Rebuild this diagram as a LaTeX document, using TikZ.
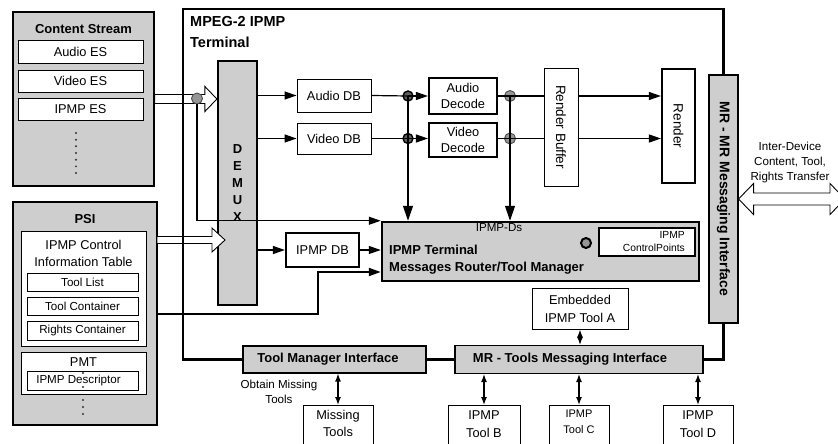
\documentclass[tikz,border=0pt]{standalone}
\usepackage{fontspec}
\setmainfont{Liberation Sans}
\usepackage{graphicx}
\usetikzlibrary{calc,arrows.meta}

\definecolor{boxgray}{RGB}{206,206,206}
\definecolor{dotgray}{RGB}{150,150,150}
\definecolor{darkdot}{RGB}{95,95,95}

\newcommand{\fnorm}{\fontsize{12.8}{17}\selectfont}
\newcommand{\fsmall}{\fontsize{11.6}{15}\selectfont}
\newcommand{\ftiny}{\fontsize{10.3}{13}\selectfont}
\newcommand{\fbold}{\fontsize{13}{17}\selectfont\bfseries}

% hollow block arrow: start, end, shaft half width, head half width, head length
\newcommand{\hollowarrow}[5]{%
  \draw[hollow] let \p1=(#1), \p2=(#2) in
    (\x1,\y1+#3) -- (\x2-#5,\y1+#3) -- (\x2-#5,\y1+#4) -- (\x2,\y1)
    -- (\x2-#5,\y1-#4) -- (\x2-#5,\y1-#3) -- (\x1,\y1-#3) -- cycle;}

\begin{document}
\begin{tikzpicture}[x=1pt,y=-1pt,
  box/.style={draw, fill=white, line width=0.9pt, inner sep=0pt, align=center, font=\fnorm},
  thickbox/.style={box, line width=2.2pt},
  graybox/.style={draw, fill=boxgray, line width=1.1pt, inner sep=0pt, align=center, font=\fbold},
  hollow/.style={draw, fill=white, line width=0.9pt},
  frame/.style={line width=2.2pt},
  wire/.style={line width=1.2pt},
  link/.style={line width=1.2pt, -{Triangle[length=12pt,width=8pt]}},
  vlink/.style={line width=1.3pt, -{Triangle[length=15pt,width=10pt]}},
  twoway/.style={line width=1.3pt, {Latex[length=8pt,width=6pt]}-{Latex[length=8pt,width=6pt]}},
  jgray/.style={circle, draw=black!70, fill=dotgray, line width=0.9pt, minimum size=11pt, inner sep=0pt},
  jdark/.style={circle, draw=black, fill=darkdot, line width=1.4pt, minimum size=10pt, inner sep=0pt},
  vdots/.style={circle, fill=black!80, minimum size=2.2pt, inner sep=0pt}]
\useasboundingbox (0,0) rectangle (838,444);
\clip (0,0) rectangle (838,444);

% Content stream and PSI on the left.
\node[box, fill=boxgray, line width=1.3pt, minimum width=141, minimum height=174] (cs) at (83.5,99) {};
\node[font=\fbold] (cstitle) at (83.5,29) {Content Stream};
\node[box, minimum width=125, minimum height=23] (aes) at (80.5,51.5) {Audio ES};
\node[box, minimum width=125, minimum height=22] (ves) at (80.5,81) {Video ES};
\node[box, minimum width=125, minimum height=22] (ies) at (80.5,109) {IPMP ES};
\foreach \i in {0,...,6} \node[vdots] (csdot\i) at (76,133+6.67*\i) {};

\node[box, fill=boxgray, line width=2.2pt, minimum width=144, minimum height=223] (psi) at (85,313.5) {};
\node[font=\fbold] (psititle) at (85,219) {PSI};
\node[box, minimum width=125, minimum height=115] (cit) at (83.5,288.5) {};
\node[font=\fnorm, align=center] (cittxt) at (83.5,253.5) {IPMP Control\\Information Table};
\node[box, font=\fsmall, minimum width=111, minimum height=18] (tlist) at (82.5,282) {Tool List};
\node[box, font=\fsmall, minimum width=111, minimum height=18] (tcont) at (82.5,306) {Tool Container};
\node[box, font=\fsmall, minimum width=111, minimum height=19] (rcont) at (82.5,330.5) {Rights Container};
\node[box, minimum width=125, minimum height=42] (pmt) at (83.5,373) {};
\node[font=\fnorm] (pmttxt) at (83.5,362) {PMT};
\node[box, font=\fsmall, align=none, minimum width=111, minimum height=19] (idesc) at (82.5,380.5) {\hspace*{-8pt}IPMP Descriptor};
\foreach \y [count=\i] in {373,387,400,407,414} \node[vdots] (psidot\i) at (83,\y) {};

% Terminal blocks.
\node[anchor=north west, align=left, inner sep=0pt, font=\fontsize{14.5}{21.6}\selectfont\bfseries] (termtitle) at (190,16) {MPEG-2 IPMP\\Terminal};
\node[graybox, line width=2.2pt, minimum width=39, minimum height=244] (demux) at (237.5,183) {D\\E\\M\\U\\X};
\node[box, minimum width=74, minimum height=33] (adb) at (334,95.5) {Audio DB};
\node[box, minimum width=74, minimum height=31] (vdb) at (334,138.5) {Video DB};
\node[thickbox, minimum width=68, minimum height=36, font=\fontsize{12.8}{16}\selectfont] (adec) at (463,96) {Audio\\Decode};
\node[thickbox, minimum width=68, minimum height=34, font=\fontsize{12.8}{16}\selectfont] (vdec) at (463,140) {Video\\Decode};
\node[box, minimum width=34, minimum height=118, font=\fontsize{13.5}{16}\selectfont] (rbuf) at (561,127) {\rotatebox{-90}{Render Buffer}};
\node[thickbox, minimum width=33, minimum height=114, font=\fontsize{13.5}{16}\selectfont] (rnd) at (678.5,126) {\rotatebox{-90}{Render}};
\node[graybox, minimum width=29, minimum height=248, font=\fontsize{14}{16}\selectfont\bfseries] (mrmr) at (723.5,199) {\rotatebox{-90}{MR - MR Messaging Interface}};
\node[font=\fsmall, align=center] (idtxt) at (790,162) {Inter-Device\\Content, Tool,\\Rights Transfer};

\node[thickbox, minimum width=73, minimum height=34] (idb) at (322.5,250) {IPMP DB};
\node[graybox, line width=2.5pt, minimum width=317, minimum height=59] (rtr) at (540.5,251.5) {};
\node[font=\fsmall] (ipmpds) at (499,227.5) {IPMP-Ds};
\node[anchor=west, align=left, inner sep=0pt, font=\fbold] (rtrtxt) at (389,259.5) {IPMP Terminal\\Messages Router/Tool Manager};
\node[circle, draw, line width=2pt, fill=dotgray, minimum size=10pt, inner sep=0pt] (cpdot) at (586,243) {};
\node[thickbox, line width=2pt, minimum width=96, minimum height=28] (cpts) at (647,242) {};
\node[anchor=east, align=right, inner sep=0pt, font=\ftiny] (cptstxt) at (685,241.5) {IPMP\\ControlPoints};

% Interfaces and tools at the bottom.
\node[graybox, align=none, minimum width=183, minimum height=27] (tmi) at (334.5,359.5) {\hspace*{-13pt}Tool Manager Interface};
\node[graybox, align=none, minimum width=248, minimum height=28] (mrtools) at (579,359.5) {\hspace*{-18pt}MR - Tools Messaging Interface};
\node[box, minimum width=96, minimum height=41, font=\fontsize{12.8}{18}\selectfont] (tla) at (580,308.5) {Embedded\\IPMP Tool A};
\node[font=\fsmall, align=center] (obtain) at (279,391.5) {Obtain Missing\\Tools};

\node[box, minimum width=70, minimum height=50, anchor=north] (mis) at (338,405) {};
\node[font=\fnorm, align=center, anchor=north, inner sep=0pt] (mistxt) at (338,410) {Missing\\Tools};
\node[box, minimum width=72, minimum height=50, anchor=north] (tlb) at (484,405) {};
\node[font=\fontsize{12.8}{18}\selectfont, align=center, anchor=north, inner sep=0pt] (tlbtxt) at (484,410) {IPMP\\Tool B};
\node[box, minimum width=60, minimum height=50, anchor=north] (tlc) at (579,405) {};
\node[font=\fontsize{11}{16}\selectfont, align=center, anchor=north, inner sep=0pt] (tlctxt) at (579,410) {IPMP\\Tool C};
\node[box, minimum width=70, minimum height=50, anchor=north] (tld) at (698,405) {};
\node[font=\fontsize{12.8}{18}\selectfont, align=center, anchor=north, inner sep=0pt] (tldtxt) at (698,410) {IPMP\\Tool D};

% Hollow arrows into the DEMUX and out of the terminal.
\coordinate (psiarr) at (157,240);
\coordinate (demuxin) at (225,240);
\coordinate (idend) at (845,199);
\hollowarrow{cs.east}{cs.east -| demux.west}{4.5pt}{12.5pt}{12pt}
\hollowarrow{psiarr}{demuxin}{3.5pt}{12pt}{13pt}
\draw[hollow] let \p1=(mrmr.east), \p2=(idend) in
  (\x1,\y1) -- (\x1+15pt,\y1+15.5pt) -- (\x1+15pt,\y1+6pt) -- (\x2-15pt,\y1+6pt)
  -- (\x2-15pt,\y1+15.5pt) -- (\x2,\y1) -- (\x2-15pt,\y1-15.5pt) -- (\x2-15pt,\y1-6pt)
  -- (\x1+15pt,\y1-6pt) -- (\x1+15pt,\y1-15.5pt) -- cycle;

% Terminal outline.
\draw[frame] (tmi.west) -| (183,9) -| (mrmr.north);
\draw[frame] (mrmr.south) |- (mrtools.east);
\draw[frame] (tmi.east) -- (mrtools.west);

% Junctions and data paths.
\node[jgray] (g0) at (197,98.5) {};
\draw[link, line width=1.3pt] (g0.south) |- (rtr.north west);
\node[jdark] (c1) at (408,96) {};
\node[jdark] (c2) at (408,138.5) {};
\node[jgray] (c3) at (510,96) {};
\node[jgray] (c4) at (510,138.5) {};

\draw[link] (adb.west -| demux.east) -- (adb.west);
\draw[link] (vdb.west -| demux.east) -- (vdb.west);
\draw[wire] (adb.east) -- (c1.center);
\draw[link] (c1.center) -- (c1 -| adec.west);
\draw[wire] (vdb.east) -- (c2.center);
\draw[link] (c2.center) -- (c2 -| vdec.west);
\draw[vlink] (c1.center) -- (c1 |- rtr.north);
\draw[vlink] (c3.center) -- (c3 |- rtr.north);
\draw[wire] (adec.east) -- (c3.center) -- (c3 -| rbuf.west);
\draw[wire] (c4 -| vdec.east) -- (c4.center) -- (c4 -| rbuf.west);
\draw[link] (c3 -| rbuf.east) -- (c3 -| rnd.west);
\draw[link] (c4 -| rbuf.east) -- (c4 -| rnd.west);

\draw[link] (idb.west -| demux.east) -- (idb.west);
\draw[link] (idb.east) -- (idb.east -| rtr.west);
\coordinate (bend) at (318,272);
\draw[link, line width=2pt] (psi.east) -| (bend) -- (bend -| rtr.west);

% Tool links.
\draw[twoway] (tla.south) -- (tla.south |- mrtools.north);
\draw[twoway] (mis.north |- tmi.south) -- (mis.north);
\draw[twoway] (tlb.north |- mrtools.south) -- (tlb.north);
\draw[twoway] (tlc.north |- mrtools.south) -- (tlc.north);
\draw[twoway] (tld.north |- mrtools.south) -- (tld.north);
\end{tikzpicture}
\end{document}
